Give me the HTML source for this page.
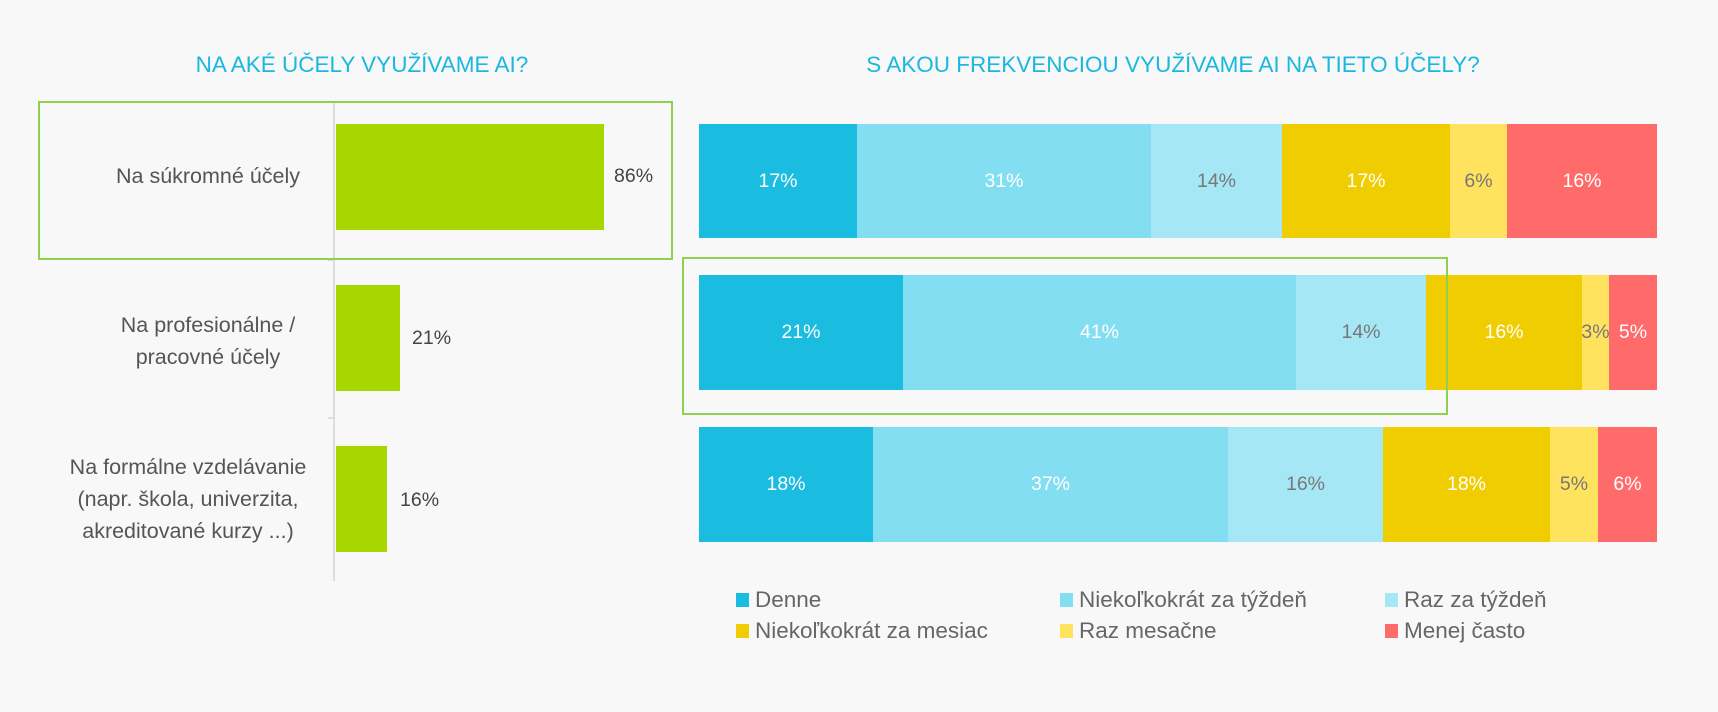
<!DOCTYPE html>
<html><head><meta charset="utf-8"><style>
body{margin:0;width:1718px;height:712px;background:#f8f8f8;font-family:"Liberation Sans",sans-serif;position:relative;overflow:hidden}
.a{position:absolute}
.t{position:absolute;color:#1ab8e0;font-size:22.5px;transform:translateX(-50%);white-space:nowrap;top:52px}
.cat{position:absolute;color:#555;font-size:21.5px;text-align:center;line-height:32px;width:320px;left:48px}
.v{position:absolute;color:#444;font-size:19.5px}
.seg{position:absolute;display:flex;align-items:center;justify-content:center;font-size:19.5px;color:#fff}
.lg{position:absolute;font-size:22.5px;color:#666;display:flex;align-items:center;white-space:nowrap}
.lg i{display:inline-block;width:13px;height:14px;margin-right:6px}
</style></head><body>
<div class="t" style="left:362px">NA AKÉ ÚČELY VYUŽÍVAME AI?</div>
<div class="t" style="left:1173px">S AKOU FREKVENCIOU VYUŽÍVAME AI NA TIETO ÚČELY?</div>

<div class="a" style="left:333px;top:101px;width:2px;height:480px;background:#ddd"></div>
<div class="a" style="left:328px;top:101px;width:6px;height:2px;background:#ddd"></div>
<div class="a" style="left:328px;top:259px;width:6px;height:2px;background:#ddd"></div>
<div class="a" style="left:328px;top:417px;width:6px;height:2px;background:#ddd"></div>

<div class="a" style="left:336px;top:124px;width:268px;height:106px;background:#a8d600"></div>
<div class="a" style="left:336px;top:285px;width:64px;height:106px;background:#a8d600"></div>
<div class="a" style="left:336px;top:446px;width:51px;height:106px;background:#a8d600"></div>
<div class="v" style="left:614px;top:165px">86%</div>
<div class="v" style="left:412px;top:327px">21%</div>
<div class="v" style="left:400px;top:489px">16%</div>

<div class="cat" style="top:160px">Na súkromné účely</div>
<div class="cat" style="top:309px">Na profesionálne /<br>pracovné účely</div>
<div class="cat" style="top:451px;left:28px">Na formálne vzdelávanie<br>(napr. škola, univerzita,<br>akreditované kurzy ...)</div>

<div class="a" style="left:38px;top:101px;width:631px;height:155px;border:2px solid #8fd14f"></div>

<div class="seg" style="left:699px;top:124px;width:158px;height:114px;background:#1abce0">17%</div>
<div class="seg" style="left:857px;top:124px;width:294px;height:114px;background:#84def2">31%</div>
<div class="seg" style="left:1151px;top:124px;width:131px;height:114px;background:#a6e7f5;color:#777">14%</div>
<div class="seg" style="left:1282px;top:124px;width:168px;height:114px;background:#f0cd00">17%</div>
<div class="seg" style="left:1450px;top:124px;width:57px;height:114px;background:#ffe35e;color:#777">6%</div>
<div class="seg" style="left:1507px;top:124px;width:150px;height:114px;background:#ff6b6b">16%</div>

<div class="seg" style="left:699px;top:275px;width:204px;height:115px;background:#1abce0">21%</div>
<div class="seg" style="left:903px;top:275px;width:393px;height:115px;background:#84def2">41%</div>
<div class="seg" style="left:1296px;top:275px;width:130px;height:115px;background:#a6e7f5;color:#777">14%</div>
<div class="seg" style="left:1426px;top:275px;width:156px;height:115px;background:#f0cd00">16%</div>
<div class="seg" style="left:1582px;top:275px;width:27px;height:115px;background:#ffe35e;color:#777">3%</div>
<div class="seg" style="left:1609px;top:275px;width:48px;height:115px;background:#ff6b6b">5%</div>

<div class="seg" style="left:699px;top:427px;width:174px;height:115px;background:#1abce0">18%</div>
<div class="seg" style="left:873px;top:427px;width:355px;height:115px;background:#84def2">37%</div>
<div class="seg" style="left:1228px;top:427px;width:155px;height:115px;background:#a6e7f5;color:#777">16%</div>
<div class="seg" style="left:1383px;top:427px;width:167px;height:115px;background:#f0cd00">18%</div>
<div class="seg" style="left:1550px;top:427px;width:48px;height:115px;background:#ffe35e;color:#777">5%</div>
<div class="seg" style="left:1598px;top:427px;width:59px;height:115px;background:#ff6b6b">6%</div>

<div class="a" style="left:682px;top:257px;width:762px;height:154px;border:2px solid #8fd14f"></div>

<div class="lg" style="left:736px;top:587px"><i style="background:#1abce0"></i>Denne</div>
<div class="lg" style="left:1060px;top:587px"><i style="background:#84def2"></i>Niekoľkokrát za týždeň</div>
<div class="lg" style="left:1385px;top:587px"><i style="background:#a6e7f5"></i>Raz za týždeň</div>
<div class="lg" style="left:736px;top:618px"><i style="background:#f0cd00"></i>Niekoľkokrát za mesiac</div>
<div class="lg" style="left:1060px;top:618px"><i style="background:#ffe35e"></i>Raz mesačne</div>
<div class="lg" style="left:1385px;top:618px"><i style="background:#ff6b6b"></i>Menej často</div>
</body></html>
